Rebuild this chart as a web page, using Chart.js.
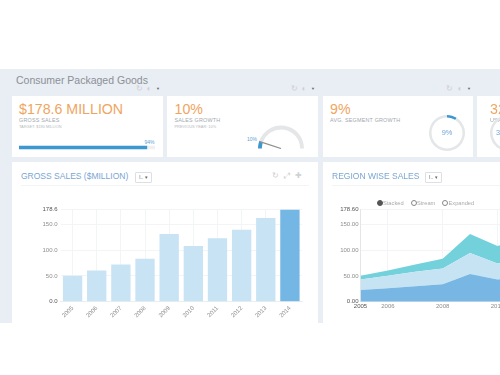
<!DOCTYPE html>
<html>
<head>
<meta charset="utf-8">
<script src="https://cdn.jsdelivr.net/npm/chart.js@4"></script>
<style>
html, body { margin: 0; padding: 0; background: #fff; }
body { width: 500px; height: 375px; overflow: hidden; position: relative; font-family: "Liberation Sans", Arial, sans-serif; }
#panel { position: absolute; left: 0; top: 69px; width: 500px; height: 254px; background: #e9edf4; overflow: hidden; }
.card { position: absolute; background: #fff; overflow: hidden; }
.txt { position: absolute; white-space: nowrap; line-height: 1; }
.big { color: #f0a55f; font-size: 14.2px; left: 7.5px; top: 5.5px; }
.lbl { color: #a3a9ae; font-size: 5.4px; left: 7.5px; top: 22px; letter-spacing: 0.2px; }
.sub { color: #b5babe; font-size: 3.9px; left: 7.5px; top: 29px; }
.pct { color: #5f9fd4; font-size: 5px; }
.title { color: #79a6d3; font-size: 8.5px; top: 10px; }
.line { position: absolute; height: 1px; background: #f3f4f6; top: 23px; }
.drop { position: absolute; top: 10px; width: 15px; height: 9px; border: 1px solid #dcdfe3; border-radius: 1px; color: #666; font-size: 5px; line-height: 9px; text-align: center; }
.ico { position: absolute; color: #cdd0d4; font-size: 8px; line-height: 1; white-space: nowrap; }
.tri { position: absolute; color: #666; font-size: 4px; line-height: 1; }
.radio { position: absolute; top: 38.5px; color: #aaa; font-size: 5.7px; line-height: 1; white-space: nowrap; padding-left: 6.5px; }
.radio i { position: absolute; left: 0; top: -0.2px; width: 4px; height: 4px; border: 1px solid #888; border-radius: 50%; }
.radio i.on { background: #555; border-color: #555; }
canvas { position: absolute; }
</style>
</head>
<body>
<div id="panel">
	<div class="txt" style="left:16px;top:5.5px;font-size:10.5px;color:#8b9095;">Consumer Packaged Goods</div>
	<div class="ico" style="left:135.5px;top:16px;">&#8635;</div>
	<div class="ico" style="left:146.5px;top:16px;">&#9680;</div>
	<div class="tri" style="left:156px;top:18px;">&#9660;</div>
	<div class="ico" style="left:290.5px;top:16px;">&#8635;</div>
	<div class="ico" style="left:301.5px;top:16px;">&#9680;</div>
	<div class="tri" style="left:311px;top:18px;">&#9660;</div>
	<div class="ico" style="left:445.5px;top:16px;">&#8635;</div>
	<div class="ico" style="left:457.5px;top:16px;">&#9680;</div>
	<div class="tri" style="left:467px;top:18px;">&#9660;</div>

	<div class="card" style="left:11.5px;top:27px;width:151px;height:61px;">
		<div class="txt big">$178.6 MILLION</div>
		<div class="txt lbl">GROSS SALES</div>
		<div class="txt sub">TARGET: $190 MILLION</div>
		<div class="txt pct" style="left:133px;top:44px;">94%</div>
		<canvas id="progressChart" width="136" height="7" style="left:7.5px;top:48px;"></canvas>
	</div>

	<div class="card" style="left:167px;top:27px;width:151px;height:61px;">
		<div class="txt big">10%</div>
		<div class="txt lbl">SALES GROWTH</div>
		<div class="txt sub">PREVIOUS YEAR: 10%</div>
		<div class="txt pct" style="left:80px;top:40.5px;">10%</div>
		<canvas id="gaugeChart" width="46" height="24" style="left:91px;top:29px;"></canvas>
	</div>

	<div class="card" style="left:322.5px;top:27px;width:150.5px;height:61px;">
		<div class="txt big">9%</div>
		<div class="txt lbl">AVG. SEGMENT GROWTH</div>
		<canvas id="ringChart" width="40" height="40" style="left:104.5px;top:16.5px;"></canvas>
		<div class="txt" style="left:119.2px;top:33px;font-size:7.4px;color:#6fa6d6;">9%</div>
	</div>

	<div class="card" style="left:477px;top:27px;width:30px;height:61px;">
		<div class="txt big" style="left:13px;">32%</div>
		<div class="txt lbl" style="left:13px;">USA GROWTH</div>
		<canvas id="ring2Chart" width="40" height="40" style="left:11px;top:16.5px;"></canvas>
		<div class="txt" style="left:19px;top:33px;font-size:7.4px;color:#6fa6d6;">32%</div>
	</div>

	<div class="card" style="left:11.5px;top:93px;width:306.5px;height:161px;">
		<div class="txt title" style="left:9.5px;">GROSS SALES ($MILLION)</div>
		<div class="drop" style="left:123.5px;">l.. &#9662;</div>
		<div class="ico" style="left:260.5px;top:10px;">&#8635;</div>
		<div class="ico" style="left:272px;top:10px;">&#10530;</div>
		<div class="ico" style="left:283.5px;top:10px;">&#10010;</div>
		<div class="line" style="left:9px;width:288px;"></div>
		<canvas id="barChart" width="306" height="128" style="left:0;top:33px;"></canvas>
	</div>

	<div class="card" style="left:322.5px;top:93px;width:178px;height:161px;">
		<div class="txt title" style="left:9.5px;">REGION WISE SALES</div>
		<div class="drop" style="left:102.5px;">l.. &#9662;</div>
		<div class="line" style="left:9px;width:169px;"></div>
		<div class="radio" style="left:54px;"><i class="on"></i>Stacked</div>
		<div class="radio" style="left:88px;"><i></i>Stream</div>
		<div class="radio" style="left:119.5px;"><i></i>Expanded</div>
		<canvas id="areaChart" width="300" height="128" style="left:0;top:33px;"></canvas>
	</div>
</div>
<script>
// Values
const years = [2005, 2006, 2007, 2008, 2009, 2010, 2011, 2012, 2013, 2014];
const grossSales = [50, 60.6, 72, 83, 131, 108, 123, 139, 162, 178.6];
const barTicks = [0, 50, 100, 150, 178.6];

const areaYears = [2005, 2006, 2007, 2008, 2009, 2010, 2011];
const regionA = [22.5, 26, 30, 34, 53.5, 43, 48];
const regionB = [20.5, 24, 28, 30, 40.5, 31, 36];
const regionC = [7, 10.6, 14, 19, 37, 34, 39];
const areaXTicks = [2005, 2006, 2008, 2010, 2012, 2014];

const progressValue = 94;
const gaugeValue = 10;
const ringValue = 9;
const ring2Value = 32;

const blue = "#3d97d3";
const track = "#e4e6e8";
const tickColor = "#8d8d8d";
const strongTick = "#555";
const gridColor = "#f2f4f6";

Chart.defaults.animation = false;
Chart.defaults.responsive = false;
Chart.defaults.font.family = '"Liberation Sans", Arial, sans-serif';
Chart.defaults.plugins.legend.display = false;
Chart.defaults.plugins.tooltip.enabled = false;

function setTicks(values) {
	return function (axis) {
		axis.ticks = values.map(function (v) { return { value: v }; });
	};
}

// the top and first ticks are printed darker in the reference
function edgeTickColor(ctx) {
	return ctx.tick.value === 178.6 || ctx.tick.value === 0 || ctx.tick.value === 2005 ? strongTick : tickColor;
}

// Progress bar
new Chart(document.getElementById("progressChart"), {
	type: "bar",
	data: {
		labels: ["Gross sales"],
		datasets: [
			{ data: [progressValue], backgroundColor: blue, barThickness: 3, grouped: false, order: 1 },
			{ data: [100], backgroundColor: "#eef0f2", barThickness: 3, grouped: false, order: 2 },
		],
	},
	options: {
		indexAxis: "y",
		scales: {
			x: { display: false, min: 0, max: 100 },
			y: { display: false },
		},
	},
});

// Needle of the gauge, taken from the arc geometry of the chart
const needlePlugin = {
	id: "needle",
	afterDatasetsDraw(chart) {
		const arc = chart.getDatasetMeta(0).data[0];
		const angle = Math.PI + (gaugeValue / 100) * Math.PI;
		const ctx = chart.ctx;
		ctx.save();
		ctx.strokeStyle = "#8f8f8f";
		ctx.lineWidth = 1.2;
		ctx.beginPath();
		ctx.moveTo(arc.x, arc.y);
		ctx.lineTo(arc.x + Math.cos(angle) * arc.outerRadius, arc.y + Math.sin(angle) * arc.outerRadius);
		ctx.stroke();
		ctx.restore();
	},
};

new Chart(document.getElementById("gaugeChart"), {
	type: "doughnut",
	data: {
		datasets: [
			{
				data: [gaugeValue, 100 - gaugeValue],
				backgroundColor: [blue, track],
				borderWidth: 0,
			},
		],
	},
	options: {
		rotation: -90,
		circumference: 180,
		cutout: "83%",
	},
	plugins: [needlePlugin],
});

// Segment growth rings
function ring(id, value) {
	new Chart(document.getElementById(id), {
		type: "doughnut",
		data: {
			datasets: [
				{
					data: [value, 100 - value],
					backgroundColor: [blue, track],
					borderWidth: 0,
				},
			],
		},
		options: {
			cutout: "86%",
			layout: { padding: 2 },
		},
	});
}
ring("ringChart", ringValue);
ring("ring2Chart", ring2Value);

// Gross sales bars
new Chart(document.getElementById("barChart"), {
	type: "bar",
	data: {
		labels: years,
		datasets: [
			{
				data: grossSales,
				backgroundColor: years.map(function (y) { return y === 2014 ? "#74b6e4" : "#c7e3f4"; }),
				categoryPercentage: 1,
				barPercentage: 0.8,
			},
		],
	},
	options: {
		layout: { padding: { top: 14.4, right: 16 } },
		scales: {
			x: {
				grid: { offset: false, color: gridColor, drawTicks: false },
				border: { color: "#eceef0" },
				ticks: { color: tickColor, font: { size: 6 }, maxRotation: 45, minRotation: 45, padding: 3 },
				afterFit: function (axis) { axis.height = 21.3; },
			},
			y: {
				min: 0,
				max: 178.6,
				afterBuildTicks: setTicks(barTicks),
				grid: { color: gridColor, drawTicks: false },
				border: { display: false },
				ticks: {
					color: edgeTickColor,
					font: { size: 6 },
					padding: 3,
					callback: function (v) { return v.toFixed(1); },
				},
				afterFit: function (axis) { axis.width = 48.5; },
			},
		},
	},
});

// Region wise stacked area
function points(values) {
	return values.map(function (v, i) { return { x: areaYears[i], y: v }; });
}

new Chart(document.getElementById("areaChart"), {
	type: "line",
	data: {
		datasets: [
			{ data: points(regionA), backgroundColor: "#78b7e3", fill: "origin", borderWidth: 0, pointRadius: 0 },
			{ data: points(regionB), backgroundColor: "#c6e3f3", fill: "-1", borderWidth: 0, pointRadius: 0 },
			{ data: points(regionC), backgroundColor: "#72d1db", fill: "-1", borderWidth: 0, pointRadius: 0 },
		],
	},
	options: {
		layout: { padding: { top: 14.4, right: 16 } },
		scales: {
			x: {
				type: "linear",
				min: 2005,
				max: 2014,
				afterBuildTicks: setTicks(areaXTicks),
				grid: { color: gridColor, drawTicks: false },
				border: { color: "#e2e6e9" },
				ticks: {
					color: edgeTickColor,
					font: { size: 6 },
					padding: 1,
					maxRotation: 0,
					autoSkip: false,
					callback: function (v) { return String(v); },
				},
				afterFit: function (axis) { axis.height = 21.3; },
			},
			y: {
				stacked: true,
				min: 0,
				max: 178.6,
				afterBuildTicks: setTicks(barTicks),
				grid: { color: gridColor, drawTicks: false },
				border: { color: "#e2e6e9" },
				ticks: {
					color: edgeTickColor,
					font: { size: 6 },
					padding: 2,
					callback: function (v) { return v.toFixed(2); },
				},
				afterFit: function (axis) { axis.width = 37.5; },
			},
		},
	},
});
</script>
</body>
</html>
